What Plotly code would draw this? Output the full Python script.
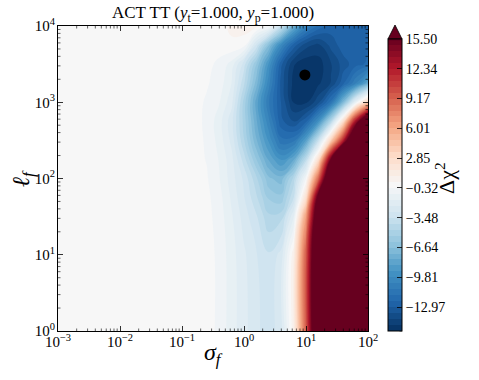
import math
import plotly.graph_objects as go

# ---- data ----
log_sigma = [-3, -1, -0.8, -0.6, -0.4, -0.2, 0, 0.2, 0.4, 0.6, 0.8, 1.0, 1.2, 1.4, 1.6, 1.8, 2.0]
log_ell = [0, 1, 1.5, 1.75, 2, 2.25, 2.5, 2.75, 3, 3.25, 3.5, 3.75, 4]

row_000 = [0, 0, 0, 0, -0.5, -1.3, -2.0, -2.7, -3.2, -2.5, 0.8, 9.5, 22, 30, 30, 30, 30]
row_100 = [0, 0, 0, 0, -0.5, -1.3, -2.1, -2.8, -3.4, -2.6, 0.8, 9.5, 22, 30, 30, 30, 30]
row_150 = [0, 0, 0, -0.1, -0.6, -1.5, -2.5, -3.4, -4.6, -4.4, -1.6, 6.5, 20, 30, 30, 30, 30]
row_175 = [0, 0, 0, -0.15, -0.7, -1.7, -2.8, -4.0, -5.5, -5.8, -3.5, 2.5, 17, 30, 30, 30, 30]
row_200 = [0, 0, -0.05, -0.25, -0.9, -1.9, -3.0, -4.6, -6.5, -7.0, -4.5, -0.3, 9, 22, 30, 30, 30]
row_225 = [0, 0, -0.1, -0.35, -1.0, -2.0, -3.8, -6.0, -8.0, -9.3, -8.0, -4.0, 2.5, 15.5, 30, 30, 30]
row_250 = [0, 0, -0.1, -0.4, -1.2, -2.4, -4.7, -7.2, -9.3, -11.5, -11.3, -8.5, -3.5, 3.5, 12, 24, 30]
row_275 = [0, 0, -0.1, -0.45, -1.3, -2.6, -5.0, -7.8, -10.3, -12.8, -13.6, -12.5, -9.5, -4.5, 2.5, 13, 22]
row_300 = [0, 0, -0.1, -0.4, -0.9, -2.0, -5.0, -8.2, -11.0, -13.0, -14.9, -15.0, -13.8, -11.5, -7.0, -1.2, 4]
row_325 = [0, 0, -0.05, -0.25, -0.6, -1.6, -4.0, -7.0, -10.2, -13.2, -15.1, -15.4, -15.0, -14.2, -12.5, -10.5, -8]
row_350 = [0, 0, 0, -0.15, -0.45, -1.2, -3.2, -6.0, -9.3, -12.8, -14.8, -15.3, -15.2, -14.3, -13.3, -12.6, -12.2]
row_375 = [0, 0, 0, 0, -0.05, 0.2, 0.0, -3.0, -6.6, -10.0, -12.6, -14.0, -14.4, -13.4, -12.6, -12.4, -12.4]
row_400 = [0, 0, 0, 0, 0.1, 0.45, 0.6, 0.55, -0.1, -3.5, -7.6, -10.4, -11.9, -12.6, -12.8, -12.5, -12.4]

delta_chi2 = [row_000, row_100, row_150, row_175, row_200, row_225, row_250,
              row_275, row_300, row_325, row_350, row_375, row_400]

best_sigma = [9.6]
best_ell = [2280]

level_max = 15.5
level_step = 0.6327
n_bands = 49
cbar_labels = ["15.50", "12.34", "9.17", "6.01", "2.85", "−0.32",
               "−3.48", "−6.64", "−9.81", "−12.97"]

x_tick_exp = [-3, -2, -1, 0, 1, 2]
y_tick_exp = [0, 1, 2, 3, 4]

# ---- build ----
level_min = level_max - n_bands * level_step
levels = [level_max - k * level_step for k in range(n_bands + 1)]
major_levels = levels[::5]

rdbu_r = [
    [0.0, "rgb(5,48,97)"], [0.1, "rgb(33,102,172)"], [0.2, "rgb(67,147,195)"],
    [0.3, "rgb(146,197,222)"], [0.4, "rgb(209,229,240)"], [0.5, "rgb(247,247,247)"],
    [0.6, "rgb(253,219,199)"], [0.7, "rgb(244,165,130)"], [0.8, "rgb(214,96,77)"],
    [0.9, "rgb(178,24,43)"], [1.0, "rgb(103,0,31)"],
]

FONT = "Liberation Serif"
W, H = 479, 380
L, R, T, B = 58, 111, 26, 49
pw, ph = W - L - R, H - T - B
CB_LEFT, CB_RIGHT, CB_TOP = 388, 402, 39

def px2x(px):
    return (px - L) / pw

def py2y(py):
    return (H - B - py) / ph

xs = [10 ** v for v in log_sigma]
ys = [10 ** v for v in log_ell]

fig = go.Figure()
fig.add_trace(go.Contour(
    x=xs, y=ys, z=delta_chi2,
    colorscale=rdbu_r, zmin=level_min, zmax=level_max, zauto=False,
    autocontour=False,
    contours=dict(start=level_min, end=level_max, size=level_step,
                  coloring="fill", showlines=False),
    line=dict(width=0, smoothing=1.3),
    colorbar=dict(
        x=px2x(CB_LEFT), xanchor="left", xpad=0,
        y=0, yanchor="bottom", ypad=0,
        len=(H - B - CB_TOP) / ph, lenmode="fraction",
        thickness=CB_RIGHT - CB_LEFT, thicknessmode="pixels",
        outlinewidth=1, outlinecolor="black",
        tickmode="array", tickvals=major_levels, ticktext=cbar_labels,
        ticks="inside", ticklen=5, tickcolor="black", tickwidth=0.8,
        tickfont=dict(family=FONT, size=14, color="black"),
    ),
    showscale=True,
    hoverinfo="skip",
))

fig.add_trace(go.Scatter(
    x=best_sigma, y=best_ell, mode="markers",
    marker=dict(color="black", size=11), showlegend=False, hoverinfo="skip",
))

axis_common = dict(
    type="log", showgrid=False, zeroline=False,
    showline=True, linecolor="black", linewidth=1, mirror="ticks",
    ticks="inside", ticklen=5, tickwidth=0.8, tickcolor="black",
    tickfont=dict(family=FONT, size=15, color="black"),
)

fig.update_xaxes(
    **axis_common, range=[-3, 2],
    tickmode="array", tickvals=[10 ** e for e in x_tick_exp],
    ticktext=[f"10<sup>{'−' if e < 0 else ''}{abs(e)}</sup>" for e in x_tick_exp],
    ticklabelstandoff=-3,
)
fig.update_yaxes(
    **axis_common, range=[0, 4],
    tickmode="array", tickvals=[10 ** e for e in y_tick_exp],
    ticktext=[f"10<sup>{e}</sup>" for e in y_tick_exp],
    ticklabelstandoff=-1,
)

# minor log ticks on all four sides (paper coordinates from log positions)
MINOR = 2.5
for e in x_tick_exp[:-1]:
    for m in range(2, 10):
        xp = (math.log10(m * 10 ** e) - x_tick_exp[0]) / (x_tick_exp[-1] - x_tick_exp[0])
        for y0, y1 in ((0, MINOR / ph), (1, 1 - MINOR / ph)):
            fig.add_shape(type="line", xref="paper", yref="paper",
                          x0=xp, x1=xp, y0=y0, y1=y1,
                          line=dict(color="black", width=0.6))
for e in y_tick_exp[:-1]:
    for m in range(2, 10):
        yp = (math.log10(m * 10 ** e) - y_tick_exp[0]) / (y_tick_exp[-1] - y_tick_exp[0])
        for x0, x1 in ((0, MINOR / pw), (1, 1 - MINOR / pw)):
            fig.add_shape(type="line", xref="paper", yref="paper",
                          x0=x0, x1=x1, y0=yp, y1=yp,
                          line=dict(color="black", width=0.6))

# colorbar minor ticks at every contour level
cb_y0, cb_y1 = 0.0, (H - B - CB_TOP) / ph
for k, lv in enumerate(levels):
    if k % 5 == 0:
        continue
    yy = cb_y0 + (lv - level_min) / (level_max - level_min) * (cb_y1 - cb_y0)
    fig.add_shape(type="line", xref="paper", yref="paper",
                  x0=px2x(CB_RIGHT - 2.5), x1=px2x(CB_RIGHT), y0=yy, y1=yy,
                  line=dict(color="black", width=0.6))

# colorbar extend-max triangle
fig.add_shape(
    type="path", xref="paper", yref="paper",
    path=(f"M {px2x(CB_LEFT)} {py2y(CB_TOP)} L {px2x(CB_RIGHT)} {py2y(CB_TOP)} "
          f"L {px2x((CB_LEFT + CB_RIGHT) / 2)} {py2y(25)} Z"),
    fillcolor="rgb(103,0,31)", line=dict(color="black", width=0.8),
)

fig.add_annotation(
    x=0.5, y=py2y(371), xref="paper", yref="paper", showarrow=False,
    text="<i>σ<sub>f</sub></i>", font=dict(family=FONT, size=24, color="black"),
)
fig.add_annotation(
    x=px2x(6), y=py2y(178), xref="paper", yref="paper", showarrow=False,
    text="<i>ℓ<sub>f</sub></i>", textangle=-90,
    font=dict(family=FONT, size=24, color="black"),
)
fig.add_annotation(
    x=px2x(461), y=py2y(178), xref="paper", yref="paper", showarrow=False,
    text="Δχ<sup>2</sup>", textangle=-90,
    font=dict(family=FONT, size=22, color="black"),
)

fig.update_layout(
    width=W, height=H,
    margin=dict(l=L, r=R, t=T, b=B, pad=0),
    paper_bgcolor="white", plot_bgcolor="white",
    title=dict(text="ACT TT (<i>y</i><sub>t</sub>=1.000, <i>y</i><sub>p</sub>=1.000)",
               x=0.5, xref="paper", xanchor="center",
               y=1 - 12 / H, yref="container", yanchor="middle",
               font=dict(family=FONT, size=17, color="black")),
    showlegend=False,
    hovermode=False,
)

fig.write_html("out.html",
               config={"displayModeBar": False, "staticPlot": True},
               post_script="document.body.style.margin='0';document.body.style.overflow='hidden';")
